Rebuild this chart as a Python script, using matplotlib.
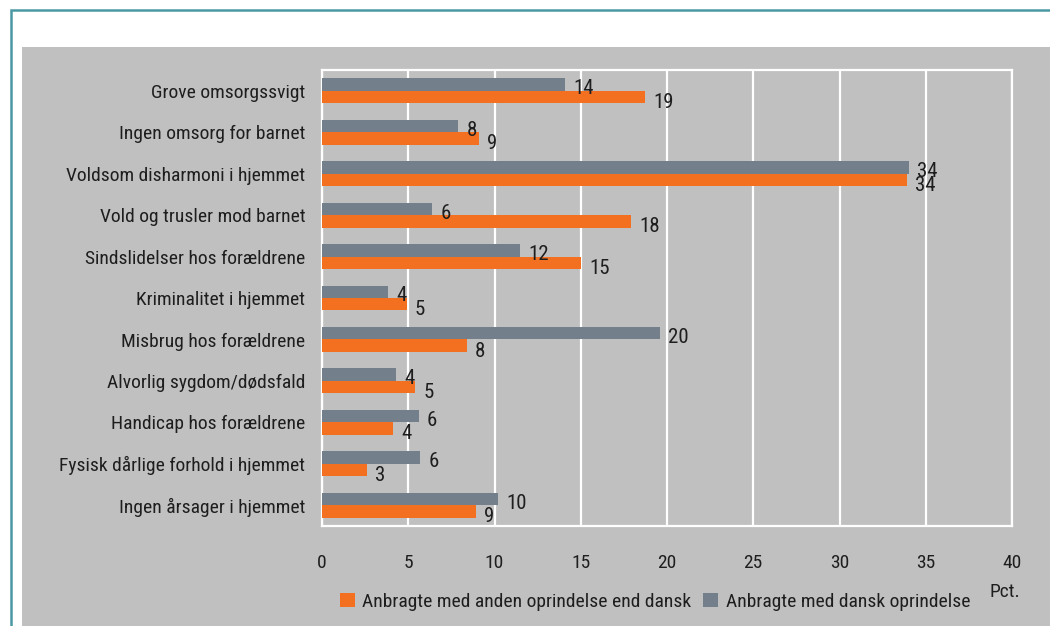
import matplotlib
matplotlib.use("Agg")
import matplotlib.pyplot as plt
from matplotlib.patches import Rectangle
import numpy as np

plt.rcParams['font.family'] = ['Roboto Condensed', 'DejaVu Sans']

categories = ["Grove omsorgssvigt", "Ingen omsorg for barnet", "Voldsom disharmoni i hjemmet",
              "Vold og trusler mod barnet", "Sindslidelser hos forældrene", "Kriminalitet i hjemmet",
              "Misbrug hos forældrene", "Alvorlig sygdom/dødsfald", "Handicap hos forældrene",
              "Fysisk dårlige forhold i hjemmet", "Ingen årsager i hjemmet"]
dansk = [14.1, 7.9, 34.0, 6.4, 11.5, 3.8, 19.6, 4.3, 5.6, 5.7, 10.2]
anden = [18.7, 9.1, 33.9, 17.9, 15.0, 4.9, 8.4, 5.4, 4.1, 2.6, 8.9]
dansk_lbl = [14, 8, 34, 6, 12, 4, 20, 4, 6, 6, 10]
anden_lbl = [19, 9, 34, 18, 15, 5, 8, 5, 4, 3, 9]
xticks = [0, 5, 10, 15, 20, 25, 30, 35, 40]

GRAY = "#737f8a"
ORANGE = "#f37021"
BG = "#c0c0c0"
TXT = "#1e1e1e"
FS = 14
FS_LBL = 15

fig = plt.figure(figsize=(10.5, 6.26), dpi=100)
fig.patch.set_facecolor("white")
# teal frame
fig.add_artist(Rectangle((11/1050, -0.1), 1.1, 1.1 - 10/626, transform=fig.transFigure,
                         facecolor="none", edgecolor="#4a98a4", linewidth=1.8, zorder=0))
fig.add_artist(Rectangle((22/1050, 0), 1.0, 1 - 47/626, transform=fig.transFigure,
                         facecolor=BG, edgecolor="none", zorder=0))

ax = fig.add_axes([322/1050, 1 - 526/626, 690/1050, 456/626])
ax.set_facecolor(BG)
y = np.arange(len(categories))
h = 0.3
ax.barh(y - h/2, dansk, height=h, color=GRAY, label="Anbragte med dansk oprindelse", zorder=3)
ax.barh(y + h/2, anden, height=h, color=ORANGE, label="Anbragte med anden oprindelse end dansk", zorder=3)

for i in range(len(categories)):
    ax.annotate(str(dansk_lbl[i]), (dansk[i], y[i] - h/2 + 0.1), xytext=(6, 0),
                textcoords="offset points", va="center", ha="left", fontsize=FS_LBL, color=TXT)
    ax.annotate(str(anden_lbl[i]), (anden[i], y[i] + h/2 + 0.13), xytext=(6, 0),
                textcoords="offset points", va="center", ha="left", fontsize=FS_LBL, color=TXT)

ax.set_xlim(0, 40)
ax.set_ylim(len(categories) - 0.5, -0.5)
ax.set_xticks(xticks)
ax.set_xticklabels([str(t) for t in xticks], fontsize=FS, color=TXT)
ax.set_yticks(y)
ax.set_yticklabels(categories, fontsize=FS, color=TXT)
ax.tick_params(axis="both", length=0)
ax.tick_params(axis="y", pad=12)
ax.tick_params(axis="x", pad=20)
ax.grid(axis="x", color="white", linewidth=1.6, zorder=1)
for s in ax.spines.values():
    s.set_color("white")
    s.set_linewidth(1.6)

handles, labels = ax.get_legend_handles_labels()
leg = fig.legend(handles[::-1], labels[::-1], loc="center", bbox_to_anchor=(655/1050, 1 - 602/626),
                 ncol=2, frameon=False, fontsize=FS, handlelength=0.75, handleheight=0.75,
                 handletextpad=0.4, columnspacing=0.6, labelcolor=TXT)
fig.text(1005/1050, 1 - 592/626, "Pct.", ha="center", va="center", fontsize=FS, color=TXT)

fig.savefig("out.png", dpi=100, facecolor=fig.get_facecolor())
